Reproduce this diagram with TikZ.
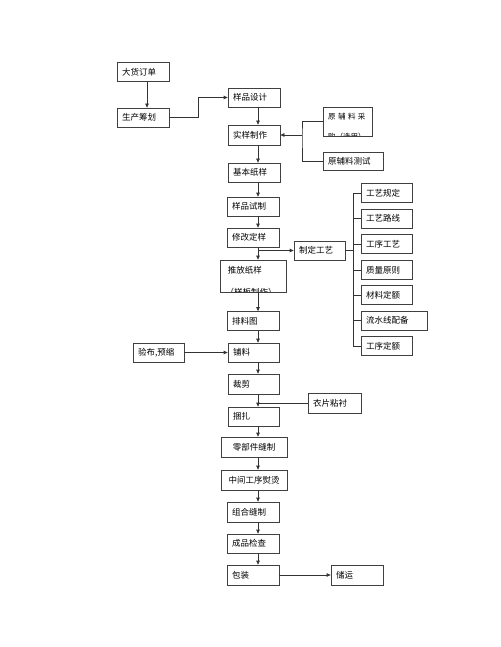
\documentclass[tikz,border=0pt]{standalone}
\usepackage{fontspec}
\newfontfamily\cjk{Noto Sans CJK SC}
\usetikzlibrary{arrows.meta}
\tikzset{
  stagebox/.style={draw=black!75, line width=0.7pt, text width=#1, align=left,
    inner xsep=5pt, inner ysep=2pt, minimum height=19pt},
  stagebox/.default=42pt,
  smalltext/.style={font=\cjk\fontsize{7.5}{9}\selectfont, inner sep=0pt}
}
\begin{document}
\begin{tikzpicture}[x=1pt, y=-1pt, font=\cjk\fontsize{8.5}{10}\selectfont,
    >={Triangle[length=4pt,width=3.5pt]}, line width=0.7pt, draw=black!80]
  \useasboundingbox (0,0) rectangle (500,647);
  \coordinate (spine) at (258,0);
  \coordinate (lspine) at (147,0);
  \coordinate (gx) at (353,0);
  \coordinate (jl) at (302,135);
  \draw
    (143,72) node[stagebox] (dahuo){大货订单}
    (143,117.5) node[stagebox] (shengchan){生产筹划}
    (254,97.5) node[stagebox] (sheji){样品设计}
    (254,135) node[stagebox, minimum height=20pt] (shiyang){实样制作}
    (254,172.5) node[stagebox] (jiben){基本纸样}
    (253,206.5) node[stagebox] (shizhi){样品试制}
    (253,237.5) node[stagebox] (xiugai){修改定样}
    (253.5,276) node[stagebox=56pt, minimum height=32pt, path picture={
        \node[anchor=west, inner sep=0pt] at ([xshift=7pt,yshift=-10pt]path picture bounding box.north west) {推放纸样};
        \node[anchor=center, inner sep=0pt] at ([yshift=-0.5pt]path picture bounding box.south) {（样板制作）};
      }] (tuifang){}
    (253,321) node[stagebox] (pailiao){排料图}
    (253.5,352.5) node[stagebox=41pt] (puliao){铺料}
    (253.5,384) node[stagebox=41pt, minimum height=20pt] (caijian){裁剪}
    (253.5,416.5) node[stagebox=41pt] (kunza){捆扎}
    (254,447) node[stagebox=56pt, align=center, minimum height=20pt] (lingbujian){零部件缝制}
    (254,480) node[stagebox=56pt, align=center, minimum height=20pt] (zhongjian){中间工序熨烫}
    (253,512) node[stagebox, minimum height=20pt] (zuhe){组合缝制}
    (253,543.5) node[stagebox] (chengpin){成品检查}
    (253,575) node[stagebox, minimum height=20pt] (baozhuang){包装}
    (357,575) node[stagebox, minimum height=20pt] (chuyun){储运}
    (158.5,352.5) node[stagebox=41pt] (yanbu){验布,预缩}
    (334.5,403) node[stagebox=43pt, minimum height=20pt] (yipian){衣片粘衬}
    (347.5,121.5) node[stagebox=39pt, minimum height=29pt, path picture={
        \node[smalltext] at ([yshift=-10pt]path picture bounding box.north) {原 辅 料 采};
        \node[smalltext] at ([yshift=-0.5pt]path picture bounding box.south) {购（选用）};
      }] (yuancai){}
    (353,161) node[stagebox=50pt, minimum height=18pt] (ceshi){原辅料测试}
    (319.5,250.5) node[stagebox=41pt] (zhiding){制定工艺}
    (386.5,193) node[stagebox=41pt] (gy1){工艺规定}
    (386.5,218.5) node[stagebox=41pt] (gy2){工艺路线}
    (386.5,244) node[stagebox=41pt] (gy3){工序工艺}
    (386.5,270) node[stagebox=41pt] (gy4){质量原则}
    (386.5,295) node[stagebox=41pt] (gy5){材料定额}
    (394,320.5) node[stagebox=56pt] (gy6){流水线配备}
    (386.5,346) node[stagebox=41pt] (gy7){工序定额};
  \begin{scope}[->]
    \draw (dahuo.south -| lspine) to (shengchan.north -| lspine);
    \draw (shengchan.east) -- ++(29,0) |- (sheji.west);
    \draw (sheji.south -| spine) to (shiyang.north -| spine);
    \draw (jl) to (shiyang.east);
    \draw (shiyang.south -| spine) to (jiben.north -| spine);
    \draw (jiben.south -| spine) to (shizhi.north -| spine);
    \draw (shizhi.south -| spine) to (xiugai.north -| spine);
    \draw (xiugai.south -| spine) to (tuifang.north -| spine);
    \draw (spine |- zhiding.west) to (zhiding.west);
    \draw (tuifang.south -| spine) to (pailiao.north -| spine);
    \draw (pailiao.south -| spine) to (puliao.north -| spine);
    \draw (yanbu.east) to (puliao.west);
    \draw (puliao.south -| spine) to (caijian.north -| spine);
    \draw (caijian.south -| spine) to (kunza.north -| spine);
    \draw (kunza.south -| spine) to (lingbujian.north -| spine);
    \draw (lingbujian.south -| spine) to (zhongjian.north -| spine);
    \draw (zhongjian.south -| spine) to (zuhe.north -| spine);
    \draw (zuhe.south -| spine) to (chengpin.north -| spine);
    \draw (chengpin.south -| spine) to (baozhuang.north -| spine);
    \draw (baozhuang.east) to (chuyun.west);
  \end{scope}
  \begin{scope}[-]
    \draw (yuancai.west) -| (jl) |- (ceshi.west);
    \draw (yipian.west) to (spine |- yipian.west);
    \draw (zhiding.east) to (gx |- zhiding.east);
    \draw (gx |- gy1.west) to (gx |- gy7.west);
    \draw (gx |- gy1.west) to (gy1.west);
    \draw (gx |- gy2.west) to (gy2.west);
    \draw (gx |- gy3.west) to (gy3.west);
    \draw (gx |- gy4.west) to (gy4.west);
    \draw (gx |- gy5.west) to (gy5.west);
    \draw (gx |- gy6.west) to (gy6.west);
    \draw (gx |- gy7.west) to (gy7.west);
  \end{scope}
\end{tikzpicture}
\end{document}
